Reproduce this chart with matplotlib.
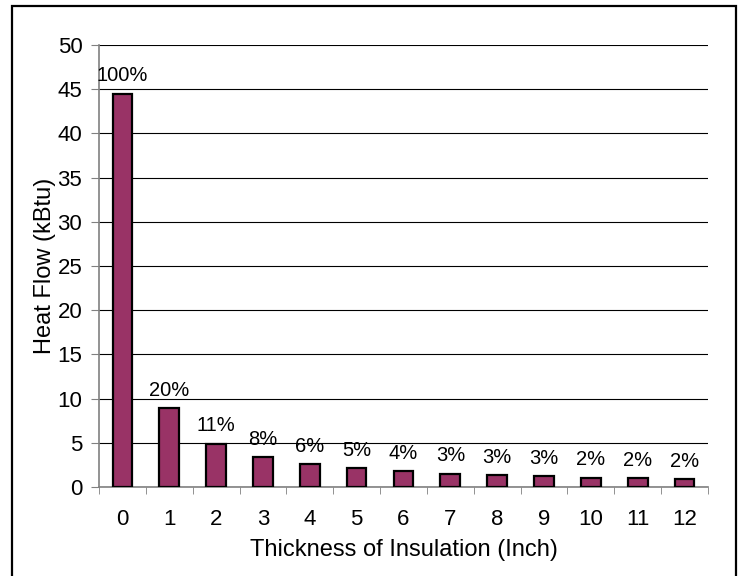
import matplotlib.pyplot as plt
from matplotlib.patches import Rectangle
from matplotlib.ticker import FixedLocator

thickness = [0, 1, 2, 3, 4, 5, 6, 7, 8, 9, 10, 11, 12]
heat_flow = [44.5, 8.9, 4.9, 3.4, 2.6, 2.1, 1.8, 1.5, 1.35, 1.2, 1.05, 1.0, 0.9]

plt.rcParams["font.family"] = ["Liberation Sans", "DejaVu Sans"]

fig = plt.figure(figsize=(7.39, 5.76), dpi=100)
ax = fig.add_axes([0.134, 0.1545, 0.824, 0.7675])

x = list(range(len(thickness)))
ax.bar(x, heat_flow, width=0.42, color="#993366", edgecolor="black",
       linewidth=1.6, zorder=3)

# percentage of uninsulated heat flow above each bar
for xi, v in zip(x, heat_flow):
    pct = round(v / heat_flow[0] * 100)
    ax.annotate(f"{pct}%", (xi, v), textcoords="offset points",
                xytext=(0, 6), ha="center", va="bottom", fontsize=14.5)

ax.set_xlim(-0.5, len(x) - 0.5)
ax.set_ylim(0, 50)
ax.set_yticks(range(0, 51, 5))
ax.yaxis.grid(True, color="black", linewidth=0.8, zorder=0)
ax.set_axisbelow(True)

ax.set_xticks(x)
ax.set_xticklabels([str(t) for t in thickness], fontsize=16)
ax.xaxis.set_minor_locator(FixedLocator([i - 0.5 for i in range(len(x) + 1)]))
ax.tick_params(axis="x", which="major", length=0, pad=16)
ax.tick_params(axis="x", which="minor", length=5, color="#808080", direction="out")
ax.tick_params(axis="y", labelsize=16, length=6, color="#808080", pad=6)

for side in ("top", "right"):
    ax.spines[side].set_visible(False)
for side in ("left", "bottom"):
    ax.spines[side].set_color("#808080")
    ax.spines[side].set_linewidth(1.2)

ax.set_xlabel("Thickness of Insulation (Inch)", fontsize=17, labelpad=6)
ax.set_ylabel("Heat Flow (kBtu)", fontsize=17, labelpad=1)

fig.patches.append(Rectangle((0.016, -0.02), 0.98, 1.01, transform=fig.transFigure,
                             fill=False, edgecolor="black", linewidth=1.6))

fig.savefig("out.png", dpi=100)
